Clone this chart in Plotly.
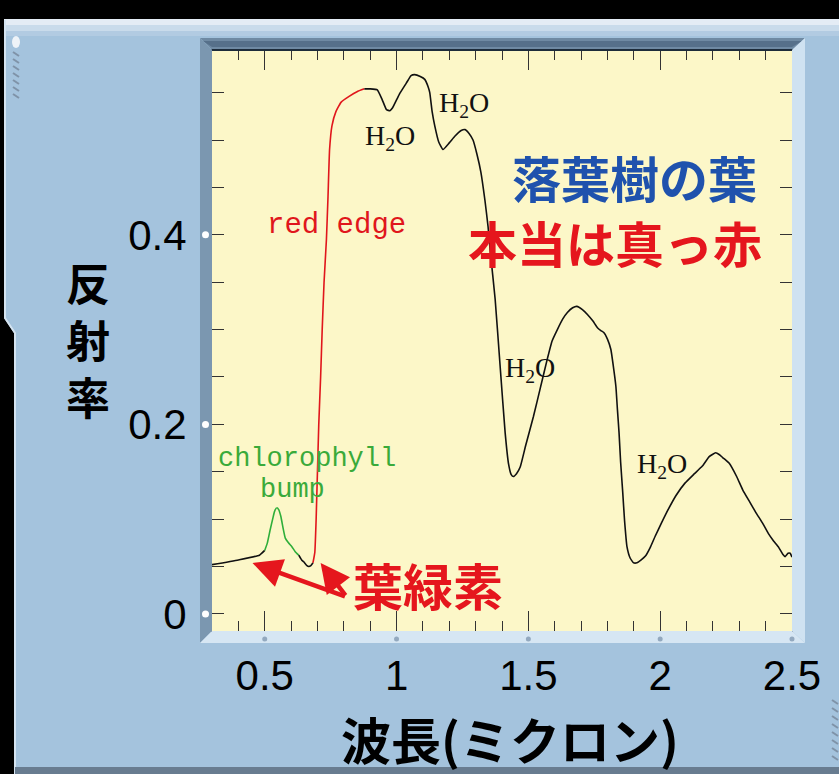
import plotly.graph_objects as go

# ---------------- data ----------------
WAVELENGTH = [
    0.30, 0.40, 0.48, 0.50,
    0.51, 0.52, 0.53, 0.537, 0.546, 0.553, 0.561, 0.57, 0.578, 0.59, 0.603, 0.615, 0.629,
    0.64, 0.648, 0.66, 0.667, 0.675, 0.683,
    0.690, 0.695, 0.700, 0.705, 0.712, 0.718, 0.725, 0.734, 0.740, 0.746, 0.755, 0.770,
    0.790, 0.820, 0.850, 0.878,
    0.90, 0.927, 0.945, 0.962, 0.975, 0.985, 1.01, 1.037, 1.055, 1.069, 1.09, 1.107,
    1.12, 1.126, 1.135, 1.145, 1.16, 1.176, 1.20, 1.221, 1.245, 1.26, 1.275, 1.29,
    1.305, 1.32, 1.335, 1.347, 1.355, 1.374, 1.393, 1.412, 1.425, 1.435, 1.443, 1.455,
    1.469, 1.49, 1.519, 1.545, 1.571, 1.59, 1.61, 1.63, 1.648, 1.668, 1.684, 1.705,
    1.724, 1.745, 1.762, 1.775, 1.786, 1.80, 1.813, 1.822, 1.832, 1.838, 1.844, 1.85,
    1.858, 1.865, 1.874, 1.886, 1.899, 1.912, 1.928, 1.944, 1.962, 1.981, 2.005, 2.03,
    2.06, 2.094, 2.13, 2.16, 2.186, 2.21, 2.225, 2.237, 2.25, 2.262, 2.29, 2.313,
    2.34, 2.363, 2.39, 2.41, 2.43, 2.45, 2.465, 2.474, 2.485, 2.493, 2.50,
]
REFLECTANCE = [
    0.052, 0.057, 0.062, 0.067,
    0.075, 0.088, 0.100, 0.108, 0.112, 0.110, 0.103, 0.090, 0.080, 0.075, 0.071, 0.066, 0.062,
    0.057, 0.055, 0.051, 0.050, 0.051, 0.054,
    0.065, 0.100, 0.150, 0.200, 0.250, 0.300, 0.350, 0.395, 0.440, 0.490, 0.515, 0.530,
    0.540, 0.546, 0.551, 0.554,
    0.554, 0.553, 0.543, 0.532, 0.531, 0.534, 0.548, 0.560, 0.568, 0.569, 0.567, 0.564,
    0.556, 0.550, 0.530, 0.515, 0.498, 0.490, 0.497, 0.504, 0.510, 0.511, 0.507, 0.500,
    0.485, 0.466, 0.437, 0.409, 0.384, 0.332, 0.261, 0.191, 0.158, 0.147, 0.145, 0.148,
    0.155, 0.178, 0.208, 0.238, 0.268, 0.288, 0.300, 0.311, 0.318, 0.323, 0.3245, 0.321,
    0.316, 0.309, 0.302, 0.299, 0.297, 0.290, 0.279, 0.262, 0.240, 0.215, 0.191, 0.160,
    0.128, 0.098, 0.071, 0.059, 0.054, 0.054, 0.057, 0.061, 0.070, 0.082, 0.096, 0.110,
    0.125, 0.138, 0.148, 0.156, 0.166, 0.170, 0.168, 0.165, 0.162, 0.159, 0.145, 0.131,
    0.118, 0.107, 0.095, 0.085, 0.077, 0.070, 0.063, 0.0605, 0.064, 0.064, 0.060,
]
# wavelength ranges of coloured parts of the curve
SEGMENT_LO = [0.30, 0.50, 0.629, 0.683, 0.878]
SEGMENT_HI = [0.50, 0.629, 0.683, 0.878, 2.50]
SEGMENT_COLOR = ["#111111", "#2fae3a", "#111111", "#e0161c", "#111111"]

X_TICKS = [0.5, 1.0, 1.5, 2.0, 2.5]
X_TICK_TEXT = ["0.5", "1", "1.5", "2", "2.5"]
Y_TICKS = [0.0, 0.2, 0.4]
Y_TICK_TEXT = ["0", "0.2", "0.4"]
X_RANGE = [0.3, 2.5]
Y_RANGE = [-0.018, 0.595]

H2O_X = [0.977, 1.254, 1.505, 2.006]
H2O_Y = [0.503, 0.537, 0.2575, 0.157]

# ---------------- layout geometry ----------------
W, H = 839, 774
L, R, T, B = 212, 792, 50, 631
CJK = "Noto Sans CJK JP"


def px(x):
    return (x - L) / (R - L)


def py(y):
    return (B - y) / (B - T)


def path(points, close=True):
    s = "M " + " L ".join(f"{px(a):.5f},{py(b):.5f}" for a, b in points)
    return s + (" Z" if close else "")


fig = go.Figure()

for lo, hi, col in zip(SEGMENT_LO, SEGMENT_HI, SEGMENT_COLOR):
    xs = [x for x in WAVELENGTH if lo <= x <= hi]
    ys = [y for x, y in zip(WAVELENGTH, REFLECTANCE) if lo <= x <= hi]
    fig.add_trace(go.Scatter(x=xs, y=ys, mode="lines",
                             line=dict(color=col, width=1.6, shape="spline", smoothing=0.4),
                             hoverinfo="skip", showlegend=False))

shapes = []
# top black band and light bar
shapes.append(dict(type="rect", xref="paper", yref="paper", x0=px(0), x1=px(W), y0=py(0), y1=py(19),
                   fillcolor="#000000", line_width=0, layer="below"))
shapes.append(dict(type="rect", xref="paper", yref="paper", x0=px(4), x1=px(W), y0=py(19), y1=py(25),
                   fillcolor="#e4ecf5", line_width=0, layer="below"))
shapes.append(dict(type="rect", xref="paper", yref="paper", x0=px(4), x1=px(W), y0=py(25), y1=py(31),
                   fillcolor="#c9dbeb", line_width=0, layer="below"))
shapes.append(dict(type="rect", xref="paper", yref="paper", x0=px(4), x1=px(W), y0=py(31), y1=py(36),
                   fillcolor="#b2cbe2", line_width=0, layer="below"))
# left black strip with chamfer
shapes.append(dict(type="path", xref="paper", yref="paper",
                   path=path([(0, 0), (4, 0), (4, 318), (14, 333), (14, H), (0, H)]),
                   fillcolor="#000000", line_width=0, layer="below"))
shapes.append(dict(type="path", xref="paper", yref="paper",
                   path=path([(5, 20), (5, 318), (15, 333), (15, H)], close=False),
                   line=dict(color="#d5e4f1", width=2), layer="below"))
# bottom dark band
shapes.append(dict(type="rect", xref="paper", yref="paper", x0=px(15), x1=px(W), y0=py(767), y1=py(H),
                   fillcolor="#687c90", line_width=0, layer="below"))
# grip marks
for i in range(7):
    shapes.append(dict(type="line", xref="paper", yref="paper",
                       x0=px(13), y0=py(52 + i * 7), x1=px(19), y1=py(56 + i * 7),
                       line=dict(color="#7f93a8", width=2), layer="below"))
shapes.append(dict(type="circle", xref="paper", yref="paper", x0=px(12), x1=px(20), y0=py(36), y1=py(48),
                   fillcolor="#eef3f8", line_width=0, layer="below"))
for i in range(8):
    shapes.append(dict(type="line", xref="paper", yref="paper",
                       x0=px(832), y0=py(700 + i * 8), x1=px(838), y1=py(704 + i * 8),
                       line=dict(color="#7f93a8", width=2), layer="below"))

# bevelled frame around the plot area
shapes.append(dict(type="path", xref="paper", yref="paper",
                   path=path([(200, 38), (805, 38), (792, 50), (212, 50)]),
                   fillcolor="#6f8aa3", line_width=0))
shapes.append(dict(type="path", xref="paper", yref="paper",
                   path=path([(203, 41), (802, 41), (792, 47), (212, 47)]),
                   fillcolor="#56708a", line_width=0))
shapes.append(dict(type="path", xref="paper", yref="paper",
                   path=path([(200, 38), (212, 50), (212, 631), (200, 643)]),
                   fillcolor="#7b97b0", line_width=0))
shapes.append(dict(type="path", xref="paper", yref="paper",
                   path=path([(200, 643), (212, 631), (792, 631), (805, 643)]),
                   fillcolor="#d6e6f3", line_width=0))
shapes.append(dict(type="path", xref="paper", yref="paper",
                   path=path([(792, 50), (805, 38), (805, 643), (792, 631)]),
                   fillcolor="#cfe2f1", line_width=0))
shapes.append(dict(type="line", xref="paper", yref="paper", x0=px(212), x1=px(792), y0=py(50), y1=py(50),
                   line=dict(color="#1d2c3a", width=2)))

# dots on the bevel at the major ticks
yspan = Y_RANGE[1] - Y_RANGE[0]
for v in Y_TICKS:
    yc = (v - Y_RANGE[0]) / yspan
    shapes.append(dict(type="circle", xref="paper", yref="paper",
                       x0=px(202), x1=px(209), y0=yc - 3.5 / (B - T), y1=yc + 3.5 / (B - T),
                       fillcolor="#ffffff", line_width=0))
xspan = X_RANGE[1] - X_RANGE[0]
for v in X_TICKS:
    xc = (v - X_RANGE[0]) / xspan
    shapes.append(dict(type="circle", xref="paper", yref="paper",
                       x0=xc - 2.5 / (R - L), x1=xc + 2.5 / (R - L), y0=py(641.5), y1=py(636.5),
                       fillcolor="#93a9bf", line_width=0))

annotations = []
for hx, hy in zip(H2O_X, H2O_Y):
    annotations.append(dict(x=hx, y=hy, xref="x", yref="y", text="H<sub>2</sub>O", showarrow=False,
                            xanchor="center", yanchor="middle",
                            font=dict(family="Liberation Serif", size=28, color="#111111")))
annotations.append(dict(x=0.774, y=0.410, xref="x", yref="y", text="red edge", showarrow=False,
                        xanchor="center", yanchor="middle",
                        font=dict(family="Liberation Mono", size=29, color="#e0161c")))
annotations.append(dict(x=0.662, y=0.1636, xref="x", yref="y", text="chlorophyll", showarrow=False,
                        xanchor="center", yanchor="middle",
                        font=dict(family="Liberation Mono", size=27, color="#3aaa3a")))
annotations.append(dict(x=0.605, y=0.131, xref="x", yref="y", text="bump", showarrow=False,
                        xanchor="center", yanchor="middle",
                        font=dict(family="Liberation Mono", size=27, color="#3aaa3a")))
annotations.append(dict(x=1.903, y=0.462, xref="x", yref="y", text="落葉樹の葉", showarrow=False,
                        xanchor="center", yanchor="middle",
                        font=dict(family=CJK, size=49, color="#1f52ad", weight=700)))
annotations.append(dict(x=1.827, y=0.393, xref="x", yref="y", text="本当は真っ赤", showarrow=False,
                        xanchor="center", yanchor="middle",
                        font=dict(family=CJK, size=49, color="#e5161d", weight=700)))
annotations.append(dict(x=1.118, y=0.032, xref="x", yref="y", text="葉緑素", showarrow=False,
                        xanchor="center", yanchor="middle",
                        font=dict(family=CJK, size=50, color="#e5161d", weight=700)))
# arrows from the 葉緑素 label to the two absorption spots
for hx, hy, ax, ay in [(0.4535, 0.0538, 94, 34), (0.712, 0.0538, 26, 34)]:
    annotations.append(dict(x=hx, y=hy, xref="x", yref="y", ax=ax, ay=ay, text="",
                            showarrow=True, arrowhead=2, arrowsize=1.3, arrowwidth=4.5,
                            arrowcolor="#e5161d", standoff=0))
# axis titles (vertical stacked y title)
annotations.append(dict(x=px(88), y=py(339), xref="paper", yref="paper", text="反<br>射<br>率",
                        showarrow=False, xanchor="center", yanchor="middle",
                        font=dict(family=CJK, size=44, color="#000000", weight=700)))
annotations.append(dict(x=px(510), y=py(738), xref="paper", yref="paper", text="波長(ミクロン)",
                        showarrow=False, xanchor="center", yanchor="middle",
                        font=dict(family=CJK, size=50, color="#000000", weight=700)))

axis_common = dict(showgrid=False, zeroline=False, showline=True, linecolor="#2a3a4a", linewidth=1,
                   mirror="ticks", ticks="inside", tickcolor="#333333", tickwidth=1)

fig.update_layout(
    width=W, height=H, autosize=False,
    margin=dict(l=L, r=W - R, t=T, b=H - B, pad=0),
    paper_bgcolor="#a4c3dd", plot_bgcolor="#fcf7c8",
    showlegend=False,
    shapes=shapes, annotations=annotations,
    xaxis=dict(range=X_RANGE, tickmode="array", tickvals=X_TICKS, ticktext=X_TICK_TEXT,
               ticklen=20, ticklabelstandoff=8,
               minor=dict(tickmode="linear", tick0=0, dtick=0.1, ticks="inside", ticklen=10,
                          tickcolor="#333333", showgrid=False),
               tickfont=dict(family="Liberation Sans", size=42, color="#000000"), **axis_common),
    yaxis=dict(range=Y_RANGE, tickmode="array", tickvals=Y_TICKS, ticktext=Y_TICK_TEXT,
               ticklen=12, ticklabelstandoff=16,
               minor=dict(tickmode="linear", tick0=0, dtick=0.05, ticks="inside", ticklen=12,
                          tickcolor="#333333", showgrid=False),
               tickfont=dict(family="Liberation Sans", size=42, color="#000000"), **axis_common),
)

fig.write_html("out.html", config={"displayModeBar": False},
               post_script="document.body.style.margin='0';document.body.style.overflow='hidden';"
                           "document.body.style.background='#000';")
